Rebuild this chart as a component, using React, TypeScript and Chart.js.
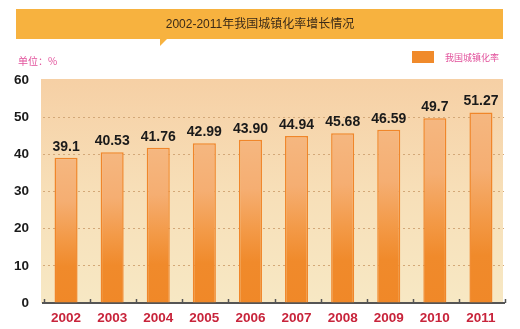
import React, { useEffect, useRef } from 'react';
import { Chart, registerables } from 'chart.js';

Chart.register(...registerables);

const title = '2002-2011年我国城镇化率增长情况';
const unitLabel = '单位：%';
const seriesName = '我国城镇化率';
const categories = ['2002', '2003', '2004', '2005', '2006', '2007', '2008', '2009', '2010', '2011'];
const values = [39.1, 40.53, 41.76, 42.99, 43.9, 44.94, 45.68, 46.59, 49.7, 51.27];
const valueLabels = ['39.1', '40.53', '41.76', '42.99', '43.90', '44.94', '45.68', '46.59', '49.7', '51.27'];
const yMin = 0;
const yMax = 60;
const yStep = 10;

const CJK = '"Noto Sans CJK SC", "Noto Sans", sans-serif';
const NUM = '"Liberation Sans", Arial, sans-serif';
const MIXED = '"Liberation Sans", "Noto Sans CJK SC", sans-serif';

const decorPlugin = {
  id: 'decor',
  beforeDraw(chart: any) {
    const c = chart.ctx;
    const ca = chart.chartArea;
    c.save();
    // plot background
    const bg = c.createLinearGradient(0, ca.top, 0, ca.bottom);
    bg.addColorStop(0, '#f6d0a5');
    bg.addColorStop(0.5, '#f7dfb8');
    bg.addColorStop(1, '#f7e8c4');
    c.fillStyle = bg;
    c.fillRect(ca.left - 2, ca.top - 1, ca.right - ca.left + 1, ca.bottom - ca.top + 1);
    // title banner
    c.fillStyle = '#f7b23f';
    c.fillRect(16, 9, 487, 30);
    c.beginPath();
    c.moveTo(160, 38);
    c.lineTo(168, 38);
    c.lineTo(160, 46);
    c.closePath();
    c.fill();
    c.fillStyle = '#3a2a18';
    c.font = '12px ' + MIXED;
    c.textAlign = 'center';
    c.textBaseline = 'middle';
    c.fillText(title, 260, 25);
    // unit
    c.fillStyle = '#e2509b';
    c.font = '10px ' + CJK;
    c.textAlign = 'left';
    c.fillText(unitLabel, 18, 61);
    // legend
    c.fillStyle = '#f08a2b';
    c.fillRect(412, 51, 22, 12);
    c.fillStyle = '#e2509b';
    c.font = '9px ' + CJK;
    c.fillText(seriesName, 445, 58);
    c.restore();
  },
  afterDatasetsDraw(chart: any) {
    const c = chart.ctx;
    const meta = chart.getDatasetMeta(0);
    c.save();
    c.fillStyle = '#1a1a1a';
    c.font = 'bold 14px ' + NUM;
    c.textAlign = 'center';
    c.textBaseline = 'bottom';
    meta.data.forEach((el: any, i: number) => {
      c.fillText(valueLabels[i], el.x, el.y - 4);
    });
    // small ticks on x axis pointing up
    const xs = chart.scales.x;
    const ca = chart.chartArea;
    const n = categories.length;
    const w = (xs.right - xs.left) / n;
    c.strokeStyle = '#555555';
    c.lineWidth = 1.5;
    for (let i = 0; i <= n; i++) {
      const x = Math.round(xs.left + i * w) + 1.5;
      c.beginPath();
      c.moveTo(x, ca.bottom - 4);
      c.lineTo(x, ca.bottom);
      c.stroke();
    }
    c.restore();
  },
};

export default function App() {
  const ref = useRef<HTMLCanvasElement>(null);
  useEffect(() => {
    if (!ref.current) return;
    const chart = new Chart(ref.current, {
      type: 'bar',
      data: {
        labels: categories,
        datasets: [
          {
            label: seriesName,
            data: values,
            backgroundColor: (ctx: any) => {
              const ch = ctx.chart;
              const ys = ch.scales && ch.scales.y;
              if (!ch.chartArea || !ys || ctx.raw == null) return '#f08a2b';
              const top = ys.getPixelForValue(ctx.raw);
              const bottom = ys.getPixelForValue(0);
              const g = ch.ctx.createLinearGradient(0, top, 0, bottom);
              g.addColorStop(0, '#f5b780');
              g.addColorStop(0.3, '#f5ae72');
              g.addColorStop(0.55, '#f39a48');
              g.addColorStop(0.75, '#f08a2b');
              g.addColorStop(1, '#f08828');
              return g;
            },
            borderColor: '#f0862a',
            borderWidth: 1.5,
            barPercentage: 0.5,
            categoryPercentage: 1,
          },
        ],
      },
      options: {
        responsive: false,
        animation: false,
        layout: { padding: { left: 0, right: 16, top: 80, bottom: 0 } },
        plugins: {
          legend: { display: false },
          title: { display: false },
          tooltip: { enabled: false },
        },
        scales: {
          x: {
            offset: true,
            grid: { display: false, drawTicks: false },
            border: { display: true, color: '#555555', width: 2 },
            ticks: {
              color: '#c8243b',
              font: { family: NUM, size: 13.5, weight: 'bold' },
              padding: 7,
            },
            afterFit: (s: any) => {
              s.height = 26;
            },
          },
          y: {
            min: yMin,
            max: yMax,
            ticks: {
              stepSize: yStep,
              color: '#1a1a1a',
              font: { family: NUM, size: 13.5, weight: 'bold' },
              padding: 14,
            },
            grid: {
              drawTicks: false,
              color: (ctx: any) =>
                ctx.tick && (ctx.tick.value === yMin || ctx.tick.value === yMax) ? 'rgba(0,0,0,0)' : '#d3a878',
              lineWidth: 1,
            },
            border: { display: false, dash: [2, 3] },
            afterFit: (s: any) => {
              s.width = 43;
            },
          },
        },
      },
      plugins: [decorPlugin],
    } as any);
    return () => chart.destroy();
  }, []);
  return (
    <div style={{ position: 'fixed', left: 0, top: 0, width: 520, height: 329, background: '#fff' }}>
      <canvas ref={ref} width={520} height={329} style={{ display: 'block' }} />
    </div>
  );
}
